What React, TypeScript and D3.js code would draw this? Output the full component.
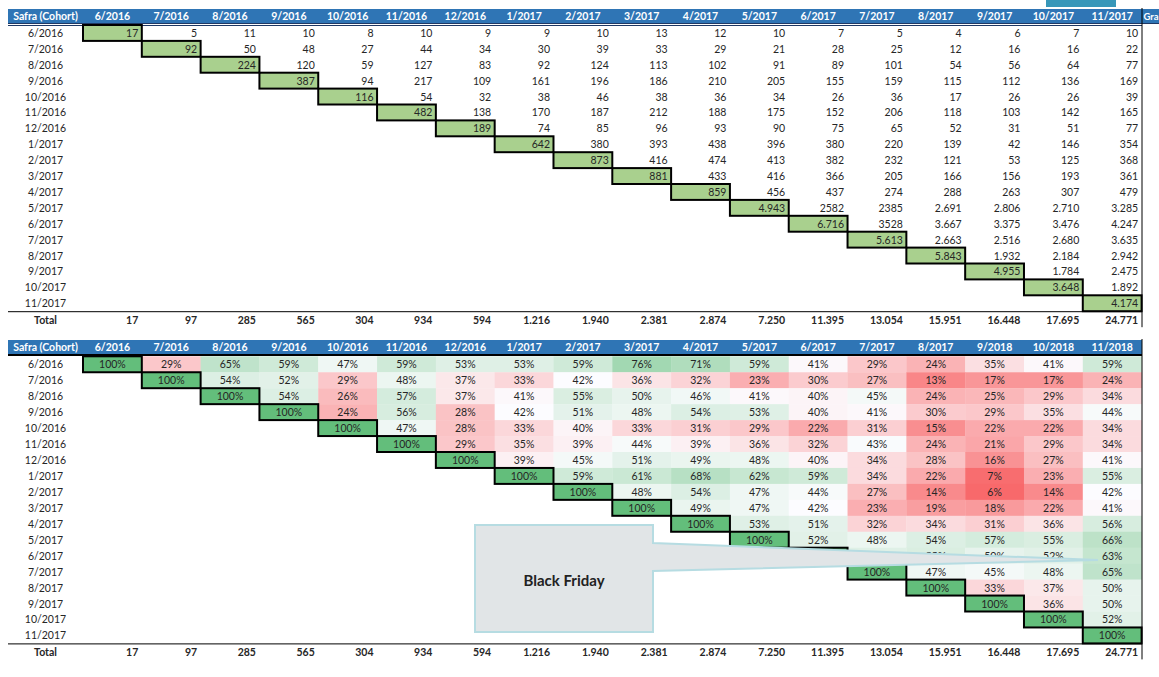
import React from "react";
import * as d3 from "d3";

const topMonths = ["6/2016","7/2016","8/2016","9/2016","10/2016","11/2016","12/2016","1/2017","2/2017","3/2017","4/2017","5/2017","6/2017","7/2017","8/2017","9/2017","10/2017","11/2017"];
const bottomMonths = ["6/2016","7/2016","8/2016","9/2016","10/2016","11/2016","12/2016","1/2017","2/2017","3/2017","4/2017","5/2017","6/2017","7/2017","8/2017","9/2018","10/2018","11/2018"];
const cohorts = ["6/2016","7/2016","8/2016","9/2016","10/2016","11/2016","12/2016","1/2017","2/2017","3/2017","4/2017","5/2017","6/2017","7/2017","8/2017","9/2017","10/2017","11/2017"];

// customers per cohort (row) per month (from the diagonal onward), as printed
const customerCounts: string[][] = [
  ["17","5","11","10","8","10","9","9","10","13","12","10","7","5","4","6","7","10"],
  ["92","50","48","27","44","34","30","39","33","29","21","28","25","12","16","16","22"],
  ["224","120","59","127","83","92","124","113","102","91","89","101","54","56","64","77"],
  ["387","94","217","109","161","196","186","210","205","155","159","115","112","136","169"],
  ["116","54","32","38","46","38","36","34","26","36","17","26","26","39"],
  ["482","138","170","187","212","188","175","152","206","118","103","142","165"],
  ["189","74","85","96","93","90","75","65","52","31","51","77"],
  ["642","380","393","438","396","380","220","139","42","146","354"],
  ["873","416","474","413","382","232","121","53","125","368"],
  ["881","433","416","366","205","166","156","193","361"],
  ["859","456","437","274","288","263","307","479"],
  ["4.943","2582","2385","2.691","2.806","2.710","3.285"],
  ["6.716","3528","3.667","3.375","3.476","4.247"],
  ["5.613","2.663","2.516","2.680","3.635"],
  ["5.843","1.932","2.184","2.942"],
  ["4.955","1.784","2.475"],
  ["3.648","1.892"],
  ["4.174"],
];

// retention % per cohort (row) per month (from the diagonal onward)
const retentionPct: number[][] = [
  [100,29,65,59,47,59,53,53,59,76,71,59,41,29,24,35,41,59],
  [100,54,52,29,48,37,33,42,36,32,23,30,27,13,17,17,24],
  [100,54,26,57,37,41,55,50,46,41,40,45,24,25,29,34],
  [100,24,56,28,42,51,48,54,53,40,41,30,29,35,44],
  [100,47,28,33,40,33,31,29,22,31,15,22,22,34],
  [100,29,35,39,44,39,36,32,43,24,21,29,34],
  [100,39,45,51,49,48,40,34,28,16,27,41],
  [100,59,61,68,62,59,34,22,7,23,55],
  [100,48,54,47,44,27,14,6,14,42],
  [100,49,47,42,23,19,18,22,41],
  [100,53,51,32,34,31,36,56],
  [100,52,48,54,57,55,66],
  [100,53,55,50,52,63],
  [100,47,45,48,65],
  [100,33,37,50],
  [100,36,50],
  [100,52],
  [100],
];

const monthTotals = ["17","97","285","565","304","934","594","1.216","1.940","2.381","2.874","7.250","11.395","13.054","15.951","16.448","17.695","24.771"];

const W = 1159;
const H = 677;
const FONT = "Lato, 'Liberation Sans', sans-serif";
const HEADER_BLUE = "#2F75B5";
const TEXT = "#262626";

const heatColor = d3
  .scaleLinear<string>()
  .domain([6, 42, 100])
  .range(["#F8696B", "#FCFCFF", "#63BE7B"])
  .interpolate(d3.interpolateRgb);

type TableProps = {
  months: string[];
  headerTop: number;
  headerBottom: number;
  rowTop: number;
  rowStep: number;
  kind: "count" | "pct";
};

function CohortTable({ months, headerTop, headerBottom, rowTop, rowStep, kind }: TableProps) {
  const x = d3.scaleBand<string>().domain(months).range([83, 1141.6]);
  const y = d3.scaleBand<string>().domain(cohorts).range([rowTop, rowTop + rowStep * cohorts.length]);
  const bw = x.bandwidth();
  const bh = y.bandwidth();
  const tableBottom = rowTop + rowStep * cohorts.length;
  const totalY = tableBottom + 8.5;
  const fs = 10.5;

  const cells: React.ReactNode[] = [];
  const boxes: React.ReactNode[] = [];
  cohorts.forEach((c, i) => {
    const rowVals: (string | number)[] = kind === "count" ? customerCounts[i] : retentionPct[i];
    rowVals.forEach((v, k) => {
      const j = i + k;
      const m = months[j];
      const cx = x(m)!;
      const cy = y(c)!;
      const diag = k === 0;
      if (kind === "pct") {
        cells.push(
          <rect key={`f${i}-${j}`} x={cx} y={cy} width={bw + 0.3} height={bh + 0.3} fill={diag ? "#63BE7B" : heatColor(v as number)} />
        );
      } else if (diag) {
        cells.push(<rect key={`f${i}-${j}`} x={cx} y={cy} width={bw} height={bh} fill="#A9D08E" />);
      }
      if (diag) {
        boxes.push(
          <rect key={`b${i}-${j}`} x={cx} y={cy} width={bw} height={bh} fill="none" stroke="#000" strokeWidth={2} />
        );
      }
      cells.push(
        kind === "count" ? (
          <text key={`t${i}-${j}`} x={cx + bw - 3.5} y={cy + bh / 2} textAnchor="end" dominantBaseline="central" fontSize={fs} fill={TEXT}>
            {v}
          </text>
        ) : (
          <text key={`t${i}-${j}`} x={cx + bw / 2} y={cy + bh / 2} textAnchor="middle" dominantBaseline="central" fontSize={fs} fill={TEXT}>
            {`${v}%`}
          </text>
        )
      );
    });
  });

  return (
    <g fontFamily={FONT}>
      <rect x={8} y={headerTop} width={(kind === "count" ? W : 1142) - 8} height={headerBottom - headerTop} fill={HEADER_BLUE} />
      <text x={45.5} y={(headerTop + headerBottom) / 2} textAnchor="middle" dominantBaseline="central" fontSize={fs} fontWeight="bold" fill="#fff">
        Safra (Cohort)
      </text>
      {months.map((m) => (
        <text key={m} x={x(m)! + bw / 2} y={(headerTop + headerBottom) / 2} textAnchor="middle" dominantBaseline="central" fontSize={fs} fontWeight="bold" fill="#fff">
          {m}
        </text>
      ))}
      {kind === "count" ? (
        <g>
          <text x={1143.5} y={(headerTop + headerBottom) / 2} dominantBaseline="central" fontSize={9.5} fontWeight="bold" fill="#fff">Gra</text>
          <line x1={8} x2={1159} y1={headerBottom + 0.5} y2={headerBottom + 0.5} stroke="#1F3864" strokeWidth={1} />
          <line x1={8} x2={1142} y1={headerBottom + 2.5} y2={headerBottom + 2.5} stroke="#1F3864" strokeWidth={1} />
        </g>
      ) : (
        <line x1={8} x2={1142} y1={headerBottom + 1} y2={headerBottom + 1} stroke="#000" strokeWidth={2} />
      )}
      {cohorts.map((c) => (
        <text key={c} x={45.5} y={y(c)! + bh / 2} textAnchor="middle" dominantBaseline="central" fontSize={fs} fill={TEXT}>
          {c}
        </text>
      ))}
      {cells}
      {boxes}
      <line x1={8} x2={1142} y1={tableBottom + 0.5} y2={tableBottom + 0.5} stroke="#000" strokeWidth={1} />
      <text x={45.5} y={totalY} textAnchor="middle" dominantBaseline="central" fontSize={fs} fontWeight="bold" fill={TEXT}>
        Total
      </text>
      {months.map((m, j) => (
        <text key={`tot${m}`} x={x(m)! + bw - 3.5} y={totalY} textAnchor="end" dominantBaseline="central" fontSize={fs} fontWeight="bold" fill={TEXT}>
          {monthTotals[j]}
        </text>
      ))}
      <line x1={1142} x2={1142} y1={headerTop - 1} y2={tableBottom + 16} stroke="#000" strokeWidth={1} />
    </g>
  );
}

export default function App() {
  return (
    <svg width={W} height={H} style={{ position: "absolute", left: 0, top: 0, background: "#fff" }}>
      <rect x={0} y={0} width={W} height={H} fill="#fff" />
      <rect x={1046} y={0} width={70} height={7} fill="#3797B9" />
      <CohortTable months={topMonths} headerTop={9} headerBottom={23} rowTop={25} rowStep={15.9} kind="count" />
      <CohortTable months={bottomMonths} headerTop={340} headerBottom={354} rowTop={356.3} rowStep={15.95} kind="pct" />
      <path
        d="M475,525 H653 V543 L1098,560 L653,571 V632 H475 Z"
        fill="#E1E5E7"
        stroke="#B6DCE2"
        strokeWidth={2}
        strokeLinejoin="miter"
      />
      <text x={564} y={580} textAnchor="middle" dominantBaseline="central" fontFamily="Lato, 'DejaVu Sans', sans-serif" fontWeight="bold" fontSize={15} fill="#222">
        Black Friday
      </text>
    </svg>
  );
}
